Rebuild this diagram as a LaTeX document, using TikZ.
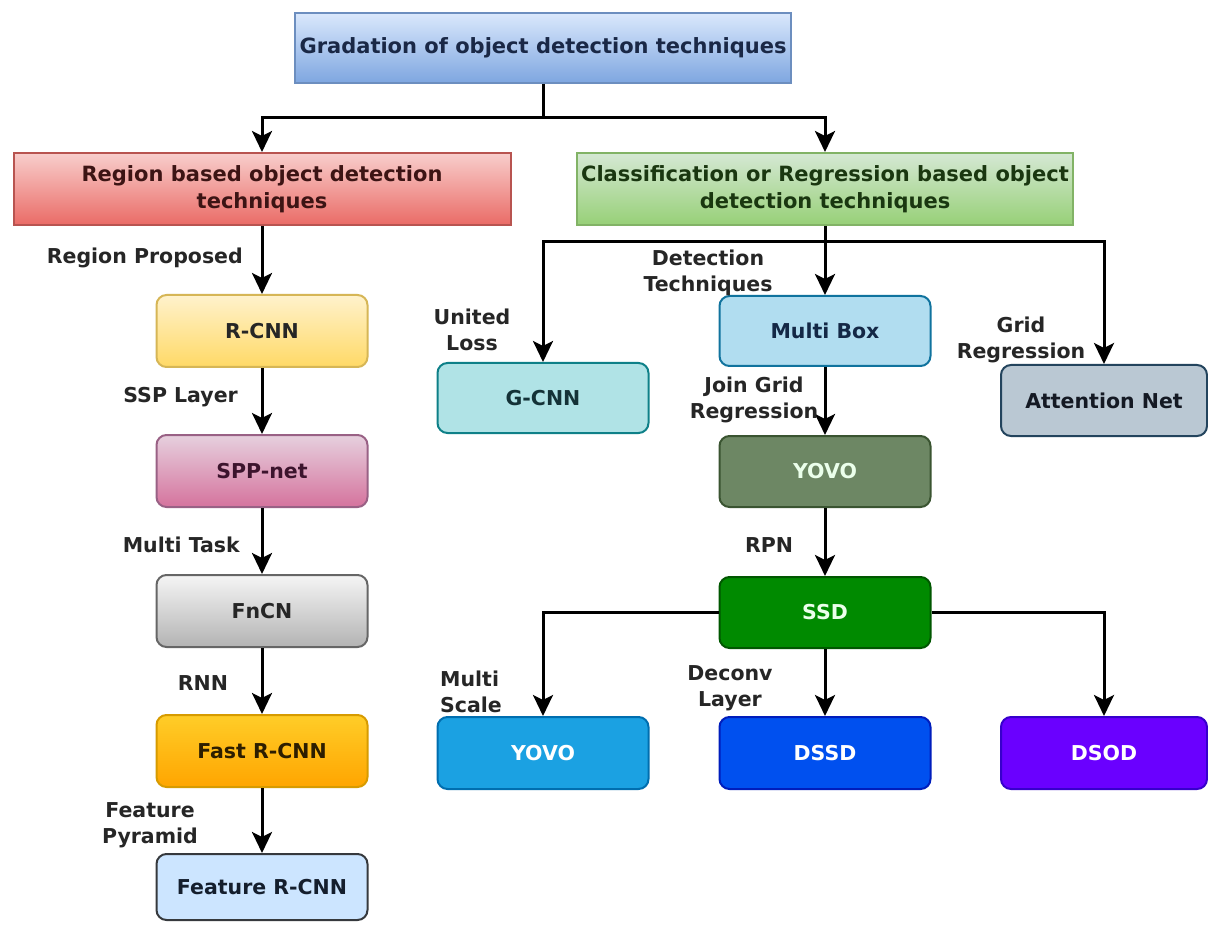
\documentclass[tikz,border=0pt]{standalone}
\usepackage{fontspec}
\setmainfont{DejaVu Sans}
\usetikzlibrary{arrows.meta}

\definecolor{ink}{HTML}{262626}
\tikzset{
  box/.style={draw, line width=2pt, rounded corners=10pt, minimum width=211pt,
    minimum height=72pt, inner sep=0pt, font=\bfseries\fontsize{20.5}{26}\selectfont,
    text=ink, align=center},
  headbox/.style={draw, line width=2pt, inner sep=0pt,
    font=\bfseries\fontsize{21}{27}\selectfont, align=center},
  lbl/.style={font=\bfseries\fontsize{20.5}{26}\selectfont, text=ink, inner sep=0pt, align=center},
  arr/.style={line width=3pt, draw=black, -{Stealth[length=21pt,width=20pt,inset=5pt]}},
  ln/.style={line width=3pt, draw=black},
}

\begin{document}
\begin{tikzpicture}[x=1pt,y=-1pt]
\useasboundingbox (0,0) rectangle (1208,925);
\fill[white] (0,0) rectangle (1208,925);

% top level
\node[headbox, minimum width=496pt, minimum height=70pt, draw={rgb,255:red,108;green,142;blue,191},
      top color={rgb,255:red,218;green,232;blue,252}, bottom color={rgb,255:red,126;green,166;blue,224},
      text={rgb,255:red,26;green,40;blue,70}] (top) at (543,48)
  {Gradation of object detection techniques};

% second level
\node[headbox, minimum width=497pt, minimum height=72pt, draw={rgb,255:red,184;green,84;blue,80},
      top color={rgb,255:red,248;green,206;blue,204}, bottom color={rgb,255:red,234;green,107;blue,102},
      text={rgb,255:red,60;green,20;blue,20}] (reg) at (262,189)
  {Region based object detection\\techniques};
\node[headbox, minimum width=496pt, minimum height=72pt, draw={rgb,255:red,130;green,179;blue,102},
      top color={rgb,255:red,213;green,232;blue,212}, bottom color={rgb,255:red,151;green,208;blue,119},
      text={rgb,255:red,26;green,55;blue,16}] (cls) at (825,189)
  {Classification or Regression based object\\detection techniques};

% region based column
\node[box, draw={rgb,255:red,214;green,182;blue,86},
      top color={rgb,255:red,255;green,242;blue,204}, bottom color={rgb,255:red,255;green,217;blue,102}] (rcnn) at (262,331) {R-CNN};
\node[box, draw={rgb,255:red,153;green,97;blue,133},
      top color={rgb,255:red,230;green,208;blue,222}, bottom color={rgb,255:red,213;green,115;blue,157},
      text={rgb,255:red,60;green,20;blue,45}] (spp) at (262,471) {SPP-net};
\node[box, draw={rgb,255:red,102;green,102;blue,102},
      top color={rgb,255:red,245;green,245;blue,245}, bottom color={rgb,255:red,179;green,179;blue,179}] (fncn) at (262,611) {FnCN};
\node[box, draw={rgb,255:red,215;green,155;blue,0},
      top color={rgb,255:red,255;green,205;blue,40}, bottom color={rgb,255:red,255;green,165;blue,0},
      text={rgb,255:red,45;green,30;blue,0}] (fast) at (262,751) {Fast R-CNN};
\node[box, minimum height=66pt, draw={rgb,255:red,54;green,57;blue,61},
      fill={rgb,255:red,204;green,229;blue,255},
      text={rgb,255:red,20;green,30;blue,45}] (feat) at (262,887) {Feature R-CNN};

% classification / regression branch
\node[box, minimum height=70pt, draw={rgb,255:red,14;green,128;blue,136},
      fill={rgb,255:red,176;green,227;blue,230},
      text={rgb,255:red,20;green,50;blue,55}] (gcnn) at (543,398) {G-CNN};
\node[box, minimum height=70pt, draw={rgb,255:red,16;green,115;blue,158},
      fill={rgb,255:red,177;green,221;blue,240},
      text={rgb,255:red,20;green,40;blue,70}] (mbox) at (825,331) {Multi Box};
\node[box, minimum width=206pt, minimum height=71pt, draw={rgb,255:red,35;green,68;blue,93},
      fill={rgb,255:red,186;green,200;blue,211},
      text={rgb,255:red,20;green,25;blue,35}] (att) at (1104,400.5) {Attention Net};
\node[box, minimum height=71pt, draw={rgb,255:red,58;green,84;blue,49},
      fill={rgb,255:red,109;green,135;blue,100}, text=white!92!green] (yovoa) at (825,471.5) {YOVO};
\node[box, minimum height=71pt, draw={rgb,255:red,0;green,87;blue,0},
      fill={rgb,255:red,0;green,138;blue,0}, text=white!92!green] (ssd) at (825,612.5) {SSD};
\node[box, draw={rgb,255:red,0;green,110;blue,175},
      fill={rgb,255:red,27;green,161;blue,226}, text=white] (yovob) at (543,753) {YOVO};
\node[box, draw={rgb,255:red,0;green,29;blue,188},
      fill={rgb,255:red,0;green,80;blue,239}, text=white] (dssd) at (825,753) {DSSD};
\node[box, minimum width=206pt, draw={rgb,255:red,55;green,0;blue,204},
      fill={rgb,255:red,106;green,0;blue,255}, text=white] (dsod) at (1104,753) {DSOD};

% connectors: top level
\coordinate (j1) at (543,118);
\draw[ln] (top.south) -- (j1);
\draw[arr] (j1) -| (reg.north);
\draw[arr] (j1) -| (cls.north);

% connectors: region based column
\draw[arr] (reg.south) -- (rcnn.north);
\draw[arr] (rcnn.south) -- (spp.north);
\draw[arr] (spp.south) -- (fncn.north);
\draw[arr] (fncn.south) -- (fast.north);
\draw[arr] (fast.south) -- (feat.north);

% connectors: classification / regression branch
\coordinate (j2) at (825,242);
\draw[arr] (cls.south) -- (mbox.north);
\draw[arr] (j2) -| (gcnn.north);
\draw[arr] (j2) -| (att.north);
\draw[arr] (mbox.south) -- (yovoa.north);
\draw[arr] (yovoa.south) -- (ssd.north);
\draw[arr] (ssd.west) -| (yovob.north);
\draw[arr] (ssd.south) -- (dssd.north);
\draw[arr] (ssd.east) -| (dsod.north);

% edge labels
\node[lbl, anchor=east] (l1) at (243,258) {Region Proposed};
\node[lbl, anchor=east] (l2) at (238,397) {SSP Layer};
\node[lbl, anchor=east] (l3) at (240,545) {Multi Task};
\node[lbl] (l4) at (203,683) {RNN};
\node[lbl] (l5) at (150,825) {Feature\\Pyramid};
\node[lbl] (l6) at (472,330) {United\\Loss};
\node[lbl] (l7) at (708,273) {Detection\\Techniques};
\node[lbl] (l8) at (1021,340) {Grid\\Regression};
\node[lbl] (l9) at (754,400) {Join Grid\\Regression};
\node[lbl] (l10) at (769,545) {RPN};
\node[lbl, align=left, anchor=west] (l11) at (440,692) {Multi\\Scale};
\node[lbl] (l12) at (730,688) {Deconv\\Layer};
\end{tikzpicture}
\end{document}
